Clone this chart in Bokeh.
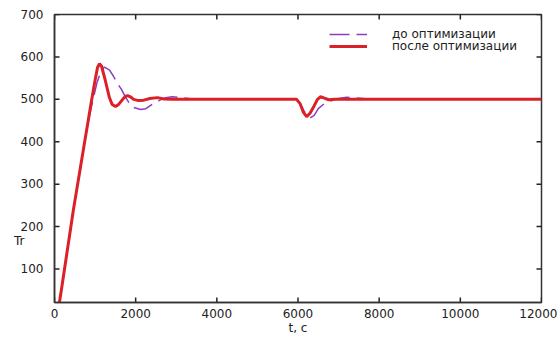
from bokeh.plotting import figure
from bokeh.models import (Range1d, LinearAxis, FixedTicker, Legend, LegendItem)
from bokeh.embed import file_html
from bokeh.resources import INLINE

# --- data ---
t_before = [100, 173, 468, 764, 850, 950, 1050, 1150, 1230, 1307, 1356, 1450, 1550, 1652,
            1750, 1850, 1950, 2120, 2250, 2441, 2600, 2737, 2900, 3100, 3400, 3800, 5000,
            5966, 6050, 6150, 6250, 6312, 6400, 6500, 6650, 6800, 7000, 7200, 7450, 7800,
            9000, 12000]
T_before = [8, 53, 241, 412, 455, 500, 540, 568, 576, 572, 569, 555, 538, 523,
            505, 490, 481, 476, 478, 490, 498, 504, 506, 504, 501, 500, 500,
            500, 490, 472, 460, 457, 462, 478, 490, 496, 502, 505, 503, 500,
            500, 500]

t_after = [100, 173, 468, 764, 814, 900, 1000, 1060, 1109, 1160, 1250, 1350, 1420, 1504,
           1580, 1680, 1750, 1800, 1870, 1950, 2071, 2200, 2350, 2539, 2700, 2900, 3200,
           4000, 5000, 5966, 6050, 6130, 6213, 6300, 6400, 6480, 6558, 6650, 6755, 6900,
           7200, 8000, 9000, 10000, 11000, 12000]
T_after = [8, 53, 241, 412, 440, 490, 545, 575, 584, 578, 545, 505, 488, 483,
           488, 500, 507, 509, 506, 500, 497, 498, 502, 504, 501, 500, 500,
           500, 500, 500, 490, 470, 459, 468, 485, 500, 506, 503, 499, 500,
           500, 500, 500, 500, 500, 500]

x_ticks = [0, 2000, 4000, 6000, 8000, 10000, 12000]
y_ticks = [100, 200, 300, 400, 500, 600, 700]
legend_labels = ["до оптимизации", "после оптимизации"]
x_label = "t, c"
y_label = "Tr"
y_label_at = 166   # vertical position of the "Tr" caption, in Tr units

FONT = "DejaVu Sans"
AXIS_COLOR = "#333333"
X0, X1, Y0, Y1 = 0, 12000, 21, 700
W, H = 557, 337
BL, BR, BT, BB = 54, 16, 14, 34
TICK_PX = 5

p = figure(width=W, height=H, output_backend="svg", toolbar_location=None,
           x_range=Range1d(X0, X1), y_range=Range1d(Y0, Y1),
           x_axis_location=None, y_axis_location=None,
           min_border_left=BL, min_border_right=BR, min_border_top=BT, min_border_bottom=BB)
p.grid.visible = False
p.outline_line_color = AXIS_COLOR
p.outline_line_width = 1.5
p.background_fill_color = "white"
p.border_fill_color = "white"

xax = LinearAxis(ticker=FixedTicker(ticks=x_ticks))
yax = LinearAxis(ticker=FixedTicker(ticks=y_ticks + [y_label_at]),
                 major_label_overrides={y_label_at: y_label + "\u00a0" * 5})
for ax in (xax, yax):
    ax.major_tick_in = 0
    ax.major_tick_out = 0
    ax.minor_tick_line_color = None
    ax.axis_line_color = AXIS_COLOR
    ax.axis_line_width = 1.5
    ax.major_label_text_font = FONT
    ax.major_label_text_font_size = "12px"
    ax.major_label_text_color = "#222222"
xax.major_label_standoff = 6
yax.major_label_standoff = 11
xax.axis_label = x_label
xax.axis_label_standoff = 0
xax.axis_label_text_font = FONT
xax.axis_label_text_font_size = "12px"
xax.axis_label_text_font_style = "normal"
xax.axis_label_text_color = "#222222"
p.add_layout(xax, "below")
p.add_layout(yax, "left")

# inward tick marks on all four sides
frame_w = W - BL - BR
frame_h = H - BT - BB
dx = (X1 - X0) / frame_w * TICK_PX
dy = (Y1 - Y0) / frame_h * TICK_PX
tick_xs = ([[x, x] for x in x_ticks] + [[x, x] for x in x_ticks]
           + [[X0, X0 + dx] for _ in y_ticks] + [[X1, X1 - dx] for _ in y_ticks])
tick_ys = ([[Y0, Y0 + dy] for _ in x_ticks] + [[Y1, Y1 - dy] for _ in x_ticks]
           + [[y, y] for y in y_ticks] + [[y, y] for y in y_ticks])
p.multi_line(xs=tick_xs, ys=tick_ys, line_color="#222222", line_width=1.5)

r_before = p.line(t_before, T_before, line_color="#8a3fc0", line_width=1.5, line_dash="20 7")
r_after = p.line(t_after, T_after, line_color="#dc2028", line_width=3)

def make_legend(label, renderer, y):
    lg = Legend(items=[LegendItem(label=label, renderers=[renderer])], location=(275, y))
    lg.glyph_width = 38
    lg.glyph_height = 10
    lg.label_height = 10
    lg.label_standoff = 25
    lg.padding = 0
    lg.margin = 0
    lg.border_line_alpha = 0
    lg.background_fill_alpha = 0
    lg.label_text_font = FONT
    lg.label_text_font_size = "12px"
    lg.label_text_color = "#222222"
    return lg

p.add_layout(make_legend(legend_labels[0], r_before, 261), "center")
p.add_layout(make_legend(legend_labels[1], r_after, 249), "center")

open("out.html", "w").write(file_html(p, INLINE))
